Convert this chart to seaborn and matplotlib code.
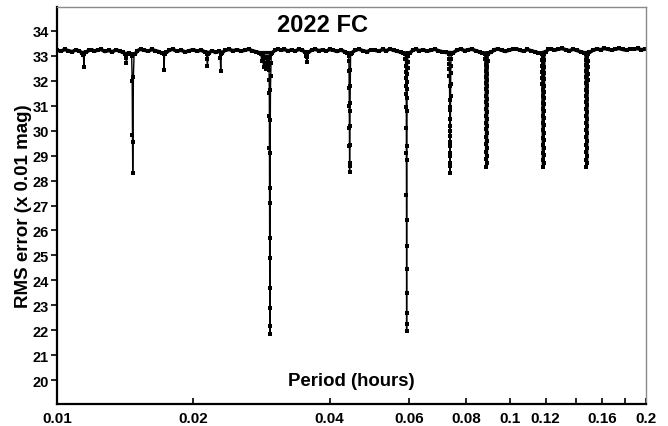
import numpy as np
import pandas as pd
import matplotlib
matplotlib.use("Agg")
import matplotlib.pyplot as plt
from matplotlib.ticker import FixedLocator, FixedFormatter, NullFormatter
import seaborn as sns

# ---------------- data ----------------
title = "2022 FC"
x_label = "Period (hours)"
y_label = "RMS error (x 0.01 mag)"
x_tick_values = [0.01, 0.02, 0.04, 0.06, 0.08, 0.1, 0.12, 0.16, 0.2]
x_tick_labels = ["0.01", "0.02", "0.04", "0.06", "0.08", "0.1", "0.12", "0.16", "0.2"]
x_minor_values = [0.14, 0.18]
y_tick_values = list(range(20, 35))

base_period = [
    0.01000, 0.01020, 0.01040, 0.01060, 0.01080, 0.01100, 0.01120, 0.01135, 0.01160, 0.01175,
    0.01190, 0.01210, 0.01230, 0.01250, 0.01275, 0.01300, 0.01325, 0.01350, 0.01375, 0.01400,
    0.01415, 0.01440, 0.01455, 0.01490, 0.01505, 0.01530, 0.01560, 0.01590, 0.01620, 0.01650,
    0.01680, 0.01705, 0.01745, 0.01770, 0.01800, 0.01840, 0.01880, 0.01920, 0.01960, 0.02000,
    0.02040, 0.02080, 0.02120, 0.02170, 0.02200, 0.02240, 0.02280, 0.02320, 0.02350, 0.02400,
    0.02450, 0.02500, 0.02550, 0.02600, 0.02650, 0.02700, 0.02750, 0.02800, 0.02990, 0.03030,
    0.03080, 0.03130, 0.03180, 0.03240, 0.03300, 0.03360, 0.03420, 0.03480, 0.03530, 0.03590,
    0.03650, 0.03720, 0.03790, 0.03860, 0.03930, 0.04000, 0.04080, 0.04160, 0.04240, 0.04320,
    0.04380, 0.04480, 0.04560, 0.04650, 0.04740, 0.04840, 0.04940, 0.05040, 0.05140, 0.05240,
    0.05340, 0.05440, 0.05540, 0.05640, 0.05740, 0.05800, 0.06030, 0.06110, 0.06200, 0.06320,
    0.06440, 0.06570, 0.06700, 0.06830, 0.06960, 0.07100, 0.07230, 0.07500, 0.07650, 0.07800,
    0.07950, 0.08100, 0.08260, 0.08420, 0.08580, 0.08700, 0.09100, 0.09250, 0.09420, 0.09600,
    0.09780, 0.09960, 0.10150, 0.10340, 0.10540, 0.10740, 0.10940, 0.11150, 0.11360, 0.11560,
    0.11650, 0.12040, 0.12150, 0.12330, 0.12560, 0.12800, 0.13050, 0.13300, 0.13550, 0.13810,
    0.14070, 0.14340, 0.14600, 0.15000, 0.15290, 0.15580, 0.15880, 0.16180, 0.16490, 0.16800,
    0.17120, 0.17450, 0.17780, 0.18120, 0.18460, 0.18810, 0.19170, 0.19530, 0.19900, 0.20000,
]
base_rms = [
    33.22, 33.18, 33.25, 33.20, 33.16, 33.23, 33.19, 33.12, 33.14, 33.21,
    33.24, 33.19, 33.22, 33.26, 33.17, 33.21, 33.16, 33.23, 33.19, 33.13,
    33.08, 33.10, 33.06, 33.08, 33.20, 33.26, 33.22, 33.18, 33.25, 33.20,
    33.16, 33.10, 33.13, 33.22, 33.26, 33.18, 33.22, 33.15, 33.20, 33.24,
    33.18, 33.22, 33.16, 33.12, 33.20, 33.13, 33.19, 33.12, 33.22, 33.25,
    33.20, 33.24, 33.18, 33.22, 33.26, 33.20, 33.16, 33.12, 33.12, 33.22,
    33.27, 33.22, 33.25, 33.19, 33.24, 33.18, 33.26, 33.21, 33.16, 33.13,
    33.22, 33.26, 33.20, 33.24, 33.18, 33.25, 33.22, 33.17, 33.23, 33.16,
    33.10, 33.12, 33.22, 33.26, 33.20, 33.16, 33.24, 33.22, 33.18, 33.25,
    33.20, 33.27, 33.22, 33.18, 33.15, 33.10, 33.12, 33.22, 33.26, 33.20,
    33.24, 33.18, 33.22, 33.26, 33.20, 33.16, 33.13, 33.12, 33.22, 33.27,
    33.20, 33.24, 33.26, 33.20, 33.15, 33.10, 33.13, 33.24, 33.27, 33.22,
    33.17, 33.22, 33.26, 33.28, 33.22, 33.18, 33.25, 33.20, 33.16, 33.12,
    33.10, 33.16, 33.25, 33.28, 33.22, 33.26, 33.29, 33.24, 33.20, 33.26,
    33.21, 33.16, 33.12, 33.13, 33.22, 33.27, 33.24, 33.29, 33.26, 33.22,
    33.27, 33.29, 33.25, 33.22, 33.28, 33.26, 33.29, 33.24, 33.26, 33.27,
]

dip_a_period = [0.01144, 0.01147, 0.01150]
dip_a_rms = [33.02, 32.55, 33.05]
dip_b_period = [0.01420, 0.01424, 0.01428]
dip_b_rms = [32.90, 32.70, 33.05]
dip_c_period = [0.01462, 0.01466, 0.01468, 0.01470, 0.01472, 0.01475, 0.01480]
dip_c_rms = [33.00, 31.97, 29.84, 28.31, 29.53, 32.15, 33.05]
dip_d_period = [0.01720, 0.01724, 0.01728]
dip_d_rms = [33.05, 32.42, 33.05]
dip_e_period = [0.02140, 0.02145, 0.02150, 0.02155]
dip_e_rms = [33.05, 32.85, 32.60, 33.05]
dip_f_period = [0.02295, 0.02300, 0.02305]
dip_f_rms = [32.90, 32.40, 33.05]
cluster_period = [0.02820, 0.02835, 0.02845, 0.02860, 0.02875, 0.02890, 0.02900, 0.02910, 0.02920, 0.02930]
cluster_rms = [33.05, 32.80, 33.00, 32.55, 32.90, 32.45, 32.70, 32.95, 32.60, 32.85]
main_period = [0.02935, 0.02938, 0.02941, 0.02943, 0.02945, 0.02946, 0.02947, 0.02948, 0.02949, 0.02950,
               0.02951, 0.02952, 0.02953, 0.02954, 0.02955, 0.02957, 0.02959, 0.02962, 0.02966, 0.02970,
               0.02975]
main_rms = [32.91, 32.64, 32.44, 32.04, 31.51, 30.57, 29.31, 27.71, 25.71, 23.71,
            22.17, 21.84, 22.91, 24.91, 27.11, 29.11, 30.44, 31.64, 32.20, 32.70,
            33.05]
dip_g_period = [0.03555, 0.03560, 0.03565, 0.03570]
dip_g_rms = [33.00, 32.95, 32.73, 33.05]
dip_h_period = [0.04408, 0.04414, 0.04418, 0.04421, 0.04423, 0.04425, 0.04427, 0.04428, 0.04430,
                0.04432, 0.04434, 0.04436, 0.04438, 0.04441, 0.04444, 0.04448, 0.04452]
dip_h_rms = [33.00, 32.77, 32.37, 31.71, 30.97, 30.11, 29.37, 28.57, 28.33,
             28.71, 29.44, 30.17, 30.77, 31.11, 31.77, 32.44, 33.05]
dip_i_period = [0.05879, 0.05886, 0.05892, 0.05897, 0.05901, 0.05905, 0.05908, 0.05911, 0.05913,
                0.05915, 0.05916, 0.05917, 0.05918, 0.05920,
                0.05921, 0.05922, 0.05923, 0.05924, 0.05926, 0.05928, 0.05930, 0.05933, 0.05936,
                0.05939, 0.05943, 0.05947, 0.05952, 0.05957, 0.05962]
dip_i_rms = [33.05, 32.85, 32.60, 32.35, 32.10, 31.80, 31.45, 30.96, 30.11,
             29.11, 27.44, 25.37, 23.51, 21.97,
             22.24, 22.71, 24.44, 26.44, 28.84, 29.37, 30.77, 31.30, 31.65,
             31.95, 32.25, 32.50, 32.75, 33.00, 33.10]
dip_j_period = [0.07343, 0.07350, 0.07355, 0.07359, 0.07363, 0.07366, 0.07369, 0.07372, 0.07374,
                0.07376, 0.07378, 0.07380, 0.07382, 0.07385,
                0.07389, 0.07391, 0.07393, 0.07395, 0.07397, 0.07400, 0.07403, 0.07406, 0.07410,
                0.07414, 0.07420, 0.07430]
dip_j_rms = [33.05, 32.85, 32.65, 32.45, 32.17, 31.77, 31.24, 30.84, 30.17,
             29.77, 29.37, 28.97, 28.57, 28.31,
             28.70, 29.10, 29.55, 30.00, 30.45, 30.95, 31.40, 31.85, 32.30,
             32.60, 32.85, 33.05]
dip_k_period = [0.08837, 0.08841, 0.08845, 0.08848, 0.08851, 0.08854, 0.08856, 0.08859, 0.08861,
                0.08862, 0.08864, 0.08866, 0.08868, 0.08870, 0.08871, 0.08873, 0.08875, 0.08877,
                0.08903, 0.08905, 0.08907, 0.08909, 0.08910, 0.08912, 0.08914, 0.08916, 0.08918,
                0.08919, 0.08921, 0.08924, 0.08926, 0.08929, 0.08932, 0.08935, 0.08939]
dip_k_rms = [33.05, 32.85, 32.62, 32.38, 32.14, 31.90, 31.65, 31.40, 31.15,
             30.88, 30.60, 30.32, 30.05, 29.75, 29.45, 29.15, 28.85, 28.55,
             28.70, 29.00, 29.30, 29.60, 29.90, 30.20, 30.48, 30.75, 31.02,
             31.28, 31.53, 31.78, 32.02, 32.28, 32.55, 32.80, 33.05]
dip_l_period = [0.11791, 0.11797, 0.11802, 0.11806, 0.11810, 0.11813, 0.11817, 0.11820, 0.11823,
                0.11825, 0.11828, 0.11830, 0.11832, 0.11835, 0.11837, 0.11839, 0.11842, 0.11844,
                0.11880, 0.11882, 0.11885, 0.11887, 0.11889, 0.11892, 0.11894, 0.11896, 0.11899,
                0.11901, 0.11904, 0.11907, 0.11911, 0.11914, 0.11918, 0.11922, 0.11927]
dip_l_rms = [33.05, 32.82, 32.60, 32.36, 32.12, 31.88, 31.63, 31.38, 31.12,
             30.86, 30.58, 30.30, 30.02, 29.72, 29.42, 29.12, 28.82, 28.55,
             28.72, 29.02, 29.32, 29.62, 29.92, 30.22, 30.50, 30.78, 31.05,
             31.30, 31.55, 31.80, 32.05, 32.30, 32.56, 32.82, 33.05]
dip_m_period = [0.14711, 0.14719, 0.14725, 0.14730, 0.14735, 0.14739, 0.14744, 0.14748, 0.14751,
                0.14754, 0.14757, 0.14760, 0.14763, 0.14766, 0.14769, 0.14772, 0.14775, 0.14778,
                0.14822, 0.14825, 0.14828, 0.14831, 0.14834, 0.14837, 0.14840, 0.14843, 0.14846,
                0.14849, 0.14852, 0.14856, 0.14861, 0.14865, 0.14870, 0.14875, 0.14881]
dip_m_rms = [33.05, 32.84, 32.61, 32.37, 32.13, 31.89, 31.64, 31.39, 31.14,
             30.87, 30.59, 30.31, 30.03, 29.73, 29.43, 29.13, 28.83, 28.55,
             28.70, 29.00, 29.30, 29.60, 29.90, 30.20, 30.48, 30.75, 31.02,
             31.28, 31.53, 31.78, 32.02, 32.28, 32.55, 32.80, 33.05]

all_periods = (base_period + dip_a_period + dip_b_period + dip_c_period + dip_d_period
               + dip_e_period + dip_f_period + cluster_period + main_period + dip_g_period
               + dip_h_period + dip_i_period + dip_j_period + dip_k_period + dip_l_period
               + dip_m_period)
all_rms = (base_rms + dip_a_rms + dip_b_rms + dip_c_rms + dip_d_rms
           + dip_e_rms + dip_f_rms + cluster_rms + main_rms + dip_g_rms
           + dip_h_rms + dip_i_rms + dip_j_rms + dip_k_rms + dip_l_rms
           + dip_m_rms)

df = pd.DataFrame({"period": all_periods, "rms": all_rms}).sort_values("period")
df_base = pd.DataFrame({"period": base_period, "rms": base_rms}).sort_values("period")
df_dense = pd.DataFrame({
    "period": dip_k_period + dip_l_period + dip_m_period,
    "rms": dip_k_rms + dip_l_rms + dip_m_rms,
    "dip": ["k"] * len(dip_k_period) + ["l"] * len(dip_l_period) + ["m"] * len(dip_m_period),
})

# ---------------- plot ----------------
sns.set_style("white")
plt.rcParams["font.family"] = ["Liberation Sans", "DejaVu Sans"]
plt.rcParams["font.weight"] = "bold"
plt.rcParams["text.color"] = "black"
plt.rcParams["axes.labelcolor"] = "black"
plt.rcParams["xtick.color"] = "black"
plt.rcParams["ytick.color"] = "black"

fig = plt.figure(figsize=(6.68, 4.27), dpi=100)
ax = fig.add_axes([0.0853, 0.0515, 0.8817, 0.9297])

# dense band of the noise floor
sns.lineplot(data=df_base, x="period", y="rms", estimator=None, sort=False,
             color="black", linewidth=2.6, ax=ax)
# densely sampled dips appear as solid columns
sns.lineplot(data=df_dense, x="period", y="rms", units="dip", estimator=None, sort=False,
             color="black", linewidth=1.8, ax=ax)
# the full spectrum with its sample points
sns.lineplot(data=df, x="period", y="rms", estimator=None, sort=False,
             color="black", linewidth=1.0, marker="s", markersize=3.2,
             markeredgewidth=0, markerfacecolor="black", ax=ax)

ax.set_xscale("log")
ax.set_xlim(0.01, 0.2)
ax.set_ylim(19.05, 34.95)

ax.xaxis.set_major_locator(FixedLocator(x_tick_values))
ax.xaxis.set_major_formatter(FixedFormatter(x_tick_labels))
ax.xaxis.set_minor_locator(FixedLocator(x_minor_values))
ax.xaxis.set_minor_formatter(NullFormatter())
ax.set_yticks(y_tick_values)
ax.set_yticklabels([str(v) for v in y_tick_values])

ax.tick_params(axis="x", which="both", direction="in", length=4, width=1.2,
               colors="black", labelsize=11, pad=5, bottom=True)
ax.tick_params(axis="y", direction="out", length=4, width=1.2,
               colors="black", labelsize=10.5, pad=2, left=True)
for lbl in ax.get_xticklabels() + ax.get_yticklabels():
    lbl.set_fontweight("bold")
    lbl.set_color("black")

ax.set_xlabel("")
ax.set_ylabel(y_label, fontsize=13.5, fontweight="bold", color="black")
ax.yaxis.set_label_coords(-0.043, 0.5)
ax.text(0.5, 0.06, x_label, transform=ax.transAxes, ha="center", va="center",
        fontsize=13.4, fontweight="bold", color="black")
ax.text(0.45, 0.957, title, transform=ax.transAxes, ha="center", va="center",
        fontsize=17, fontweight="bold", color="black")

for side in ["left", "bottom"]:
    ax.spines[side].set_color("black")
    ax.spines[side].set_linewidth(1.6)
for side in ["top", "right"]:
    ax.spines[side].set_color("#8a8a8a")
    ax.spines[side].set_linewidth(1.0)

fig.savefig("out.png", dpi=100, facecolor="white")
